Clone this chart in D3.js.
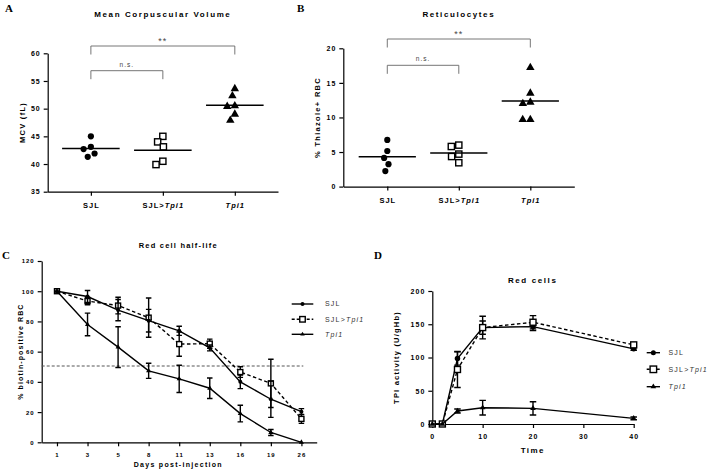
<!DOCTYPE html>
<html>
<head>
<meta charset="utf-8">
<script src="https://cdn.jsdelivr.net/npm/d3@7"></script>
<style>
  body { margin: 0; background: #fff; }
  svg text { font-family: "Liberation Sans", Arial, sans-serif; }
  .tick text { font-weight: bold; letter-spacing: 1px; }
  .panel-letter { font-family: "Liberation Serif", "Times New Roman", serif !important; font-weight: bold; font-size: 11px; }
  .title { font-weight: bold; font-size: 8px; letter-spacing: 1.6px; }
</style>
</head>
<body>
<svg width="708" height="469"></svg>
<script>
var svg = d3.select('svg');

// ---- data ----
var groups = ["SJL", "SJL>Tpi1", "Tpi1"];

// panel A: mean corpuscular volume (fL)
var mcvSJL = [45.0, 43.1, 42.7, 41.9, 41.3];
var mcvChimera = [45.0, 44.0, 43.1, 40.5, 39.9];
var mcvTpi1 = [53.6, 52.3, 50.5, 50.4, 49.0, 47.9];

// panel B: % thiazole+ RBC
var retSJL = [6.75, 5.15, 4.15, 3.25, 2.25];
var retChimera = [6.0, 5.8, 4.7, 4.35, 3.45];
var retTpi1 = [17.2, 13.5, 12.2, 12.0, 9.7, 9.7];

// panel C: red cell half-life
var days = ["1", "3", "5", "8", "11", "13", "16", "19", "26"];
var halfSJL = [100, 96.5, 87.5, 80.5, 73.8, 62.5, 40, 28.5, 20.3];
var halfSJLerr = [0, 4, 7, 7.5, 3, 2, 4.5, 12, 2];
var halfChimera = [100, 93.5, 90.5, 82.5, 65, 65.3, 46.5, 39, 15.5];
var halfChimeraErr = [0, 2.5, 5.5, 13, 8, 3, 3.5, 16, 3];
var halfTpi1 = [100, 78, 63, 47.3, 42, 35.8, 19, 6.5, 0];
var halfTpi1Err = [0, 7.5, 13.5, 5, 9, 6.8, 5.5, 2, 0];
var halfLine = 50.5;

// panel D: TPI activity in red cells
var times = [0, 2, 5, 10, 20, 40];
var tpiSJL = [0, 0, 98.5, 145, 146.5, 113];
var tpiSJLerr = [0, 0, 10, 10, 6, 2];
var tpiChimera = [0, 0, 82, 145, 153, 119];
var tpiChimeraErr = [0, 0, 27, 17, 10, 2];
var tpiTpi1 = [0, 0, 19.5, 24.5, 23.5, 8.5];
var tpiTpi1Err = [0, 0, 3, 11, 10, 2];

var yTicksA = [35, 40, 45, 50, 55, 60];
var yTicksB = [0, 5, 10, 15, 20];
var yTicksC = [0, 20, 40, 60, 80, 100, 120];
var yTicksD = [0, 50, 100, 150, 200];
var xTicksD = [0, 10, 20, 30, 40];

// ---- helpers ----
function groupLabel(sel, g){
  sel.text(null);
  if(g === "SJL>Tpi1"){
    sel.append('tspan').text('SJL>');
    sel.append('tspan').style('font-style', 'italic').text('Tpi1');
  } else if(g === "Tpi1"){
    sel.append('tspan').style('font-style', 'italic').text('Tpi1');
  } else {
    sel.append('tspan').text(g);
  }
}

// place points so they do not overlap (like a dot plot)
function swarm(vals, yScale, dist){
  var placed = [];
  vals.forEach(function(v){
    var y = yScale(v);
    var cands = [0];
    placed.forEach(function(p){
      var dy = Math.abs(p.y - y);
      if(dy < dist){
        var dx = Math.sqrt(dist*dist - dy*dy);
        cands.push(p.x - dx, p.x + dx);
      }
    });
    cands.sort(function(a, b){ return Math.abs(a) - Math.abs(b) || a - b; });
    var x = cands.find(function(c){
      return placed.every(function(p){
        return Math.hypot(p.x - c, p.y - y) >= dist - 0.01;
      });
    });
    placed.push({x: x, y: y});
  });
  return placed;
}

function drawMarker(g, kind, x, y, size){
  if(kind === 'circle'){
    g.append('circle').attr('cx', x).attr('cy', y).attr('r', size/2).attr('fill', '#000');
  } else if(kind === 'square'){
    g.append('rect').attr('x', x - size/2).attr('y', y - size/2)
      .attr('width', size).attr('height', size)
      .attr('fill', '#fff').attr('stroke', '#000').attr('stroke-width', 1.4);
  } else {
    g.append('path')
      .attr('transform', `translate(${x},${y})`)
      .attr('d', d3.symbol().type(d3.symbolTriangle).size(size*size*0.55)())
      .attr('fill', '#000');
  }
}

function styleAxis(ax, size){
  ax.selectAll('path, line').attr('stroke', '#000').attr('stroke-width', 1.2);
  ax.selectAll('text').style('font-size', size + 'px').attr('fill', '#000');
}

function bracket(g, x1, x2, yTop, drop, label, labelDy){
  g.append('path')
    .attr('d', `M${x1},${yTop + drop}V${yTop}H${x2}V${yTop + drop}`)
    .attr('fill', 'none').attr('stroke', '#666').attr('stroke-width', 0.9);
  g.append('text')
    .attr('x', (x1 + x2)/2).attr('y', yTop - labelDy)
    .attr('text-anchor', 'middle')
    .style('font-size', label === '**' ? '9px' : '6.5px')
    .style('letter-spacing', '1px')
    .attr('fill', '#444')
    .text(label);
}

// ---- scatter panels (A, B) ----
function scatterPanel(opt){
  var g = svg.append('g');

  var yScale = d3.scaleLinear().domain(opt.domain).range([opt.bottom, opt.top]);
  var xScale = d3.scalePoint().domain(groups).range([opt.left, opt.right]).padding(opt.pad);

  var yAxis = g.append('g')
    .attr('transform', `translate(${opt.left},0)`)
    .call(d3.axisLeft(yScale).tickValues(opt.ticks).tickSize(4).tickSizeOuter(0));
  styleAxis(yAxis, 7);

  var xAxis = g.append('g')
    .attr('transform', `translate(0,${opt.bottom})`)
    .call(d3.axisBottom(xScale).tickSize(4).tickSizeOuter(0));
  styleAxis(xAxis, 7.5);
  xAxis.selectAll('text').attr('dy', '1.25em').each(function(d){ groupLabel(d3.select(this), d); });

  var kinds = ['circle', 'square', 'triangle'];
  opt.series.forEach(function(vals, i){
    var cx = xScale(groups[i]);
    var pts = swarm(vals, yScale, 7.6);
    pts.forEach(function(p){ drawMarker(g, kinds[i], cx + p.x, p.y, kinds[i] === 'triangle' ? 7.5 : 6.2); });
    var m = d3.mean(vals);
    g.append('line')
      .attr('x1', cx - xScale.step()*0.4).attr('x2', cx + xScale.step()*0.4)
      .attr('y1', yScale(m)).attr('y2', yScale(m))
      .attr('stroke', '#000').attr('stroke-width', 1.4);
  });

  bracket(g, xScale(groups[0]), xScale(groups[2]), opt.starY, 8.5, '**', 2);
  bracket(g, xScale(groups[0]), xScale(groups[1]), opt.nsY, 8.5, 'n.s.', 4);

  g.append('text').attr('class', 'title')
    .attr('x', xScale(groups[1])).attr('y', 17)
    .attr('text-anchor', 'middle').text(opt.title);

  g.append('text')
    .attr('transform', 'rotate(-90)')
    .attr('x', -(opt.top + opt.bottom)/2).attr('y', opt.left - 23)
    .attr('text-anchor', 'middle')
    .style('font-size', '7.5px').style('font-weight', 'bold').style('letter-spacing', '1.3px')
    .text(opt.yLabel);

  g.append('text').attr('class', 'panel-letter')
    .attr('x', opt.letterX).attr('y', 12).text(opt.letter);
}

scatterPanel({
  letter: 'A', letterX: 5,
  title: 'Mean Corpuscular Volume',
  yLabel: 'MCV (fL)',
  domain: [35, 60], ticks: yTicksA,
  left: 47.7, right: 278, top: 53.3, bottom: 191.7, pad: 0.6,
  series: [mcvSJL, mcvChimera, mcvTpi1],
  starY: 46, nsY: 70.7
});

scatterPanel({
  letter: 'B', letterX: 297,
  title: 'Reticulocytes',
  yLabel: '% Thiazole+ RBC',
  domain: [0, 20], ticks: yTicksB,
  left: 343.3, right: 574.3, top: 48.3, bottom: 186.6, pad: 0.615,
  series: [retSJL, retChimera, retTpi1],
  starY: 39, nsY: 65.3
});

// ---- line panels (C, D) ----
function errorBars(g, xs, ys, errs, yScale, cap){
  xs.forEach(function(x, i){
    if(!errs[i]) return;
    var y1 = yScale(ys[i] + errs[i]), y2 = yScale(ys[i] - errs[i]);
    g.append('path')
      .attr('d', `M${x - cap/2},${y1}H${x + cap/2}M${x},${y1}V${y2}M${x - cap/2},${y2}H${x + cap/2}`)
      .attr('stroke', '#000').attr('stroke-width', 1.4).attr('fill', 'none');
  });
}

function seriesLine(g, xs, ys, yScale, dashed, kind, msize, errs, cap){
  errorBars(g, xs, ys, errs, yScale, cap);
  g.append('path')
    .datum(ys)
    .attr('fill', 'none')
    .attr('stroke', '#000')
    .attr('stroke-width', 1.4)
    .attr('stroke-dasharray', dashed ? '3.5,2.5' : null)
    .attr('d', d3.line().x(function(d, i){ return xs[i]; }).y(function(d){ return yScale(d); }));
  ys.forEach(function(v, i){ drawMarker(g, kind, xs[i], yScale(v), msize); });
}

function legend(g, x, ys, textX, size){
  var items = [
    {name: 'SJL', dashed: false, kind: 'circle'},
    {name: 'SJL>Tpi1', dashed: true, kind: 'square'},
    {name: 'Tpi1', dashed: false, kind: 'triangle'}
  ];
  items.forEach(function(it, i){
    g.append('line')
      .attr('x1', x[0]).attr('x2', x[1]).attr('y1', ys[i]).attr('y2', ys[i])
      .attr('stroke', '#000').attr('stroke-width', 1.4)
      .attr('stroke-dasharray', it.dashed ? '3,2' : null);
    drawMarker(g, it.kind, (x[0] + x[1])/2, ys[i], it.kind === 'square' ? size + 1.5 : size);
    var t = g.append('text')
      .attr('x', textX).attr('y', ys[i]).attr('dy', '0.35em')
      .style('font-size', '7px').style('letter-spacing', '1.2px').attr('fill', '#333');
    groupLabel(t, it.name);
  });
}

// panel C
(function(){
  var g = svg.append('g');
  var left = 41.7, right = 316.7, top = 261, bottom = 442.3;
  var yScale = d3.scaleLinear().domain([0, 120]).range([bottom, top]);
  var xScale = d3.scalePoint().domain(days).range([left, right]).padding(0.5);

  var yAxis = g.append('g').attr('transform', `translate(${left},0)`)
    .call(d3.axisLeft(yScale).tickValues(yTicksC).tickSize(4).tickSizeOuter(0));
  styleAxis(yAxis, 6);
  var xAxis = g.append('g').attr('transform', `translate(0,${bottom})`)
    .call(d3.axisBottom(xScale).tickSize(4).tickSizeOuter(0));
  styleAxis(xAxis, 6);
  xAxis.selectAll('text').attr('dy', '1.3em');

  g.append('line')
    .attr('x1', left).attr('x2', 303.3)
    .attr('y1', yScale(halfLine)).attr('y2', yScale(halfLine))
    .attr('stroke', '#555').attr('stroke-width', 1).attr('stroke-dasharray', '3,2');

  var xs = days.map(function(d){ return xScale(d); });
  seriesLine(g, xs, halfChimera, yScale, true, 'square', 5, halfChimeraErr, 5.5);
  seriesLine(g, xs, halfSJL, yScale, false, 'circle', 4, halfSJLerr, 5.5);
  seriesLine(g, xs, halfTpi1, yScale, false, 'triangle', 4.5, halfTpi1Err, 5.5);

  legend(g, [291.7, 313.3], [304, 319.3, 334.3], 325, 4);

  g.append('text').attr('class', 'title').style('font-size', '7.5px').style('letter-spacing', '1.2px')
    .attr('x', 178.3).attr('y', 248).attr('text-anchor', 'middle').text('Red cell half-life');
  g.append('text')
    .attr('x', 178.3).attr('y', 467).attr('text-anchor', 'middle')
    .style('font-size', '7px').style('font-weight', 'bold').style('letter-spacing', '1.3px')
    .text('Days post-injection');
  g.append('text')
    .attr('transform', 'rotate(-90)')
    .attr('x', -(top + bottom)/2).attr('y', left - 19)
    .attr('text-anchor', 'middle')
    .style('font-size', '7px').style('font-weight', 'bold').style('letter-spacing', '1.1px')
    .text('% biotin-positive RBC');
  g.append('text').attr('class', 'panel-letter').attr('x', 2).attr('y', 259).text('C');
})();

// panel D
(function(){
  var g = svg.append('g');
  var left = 432.3, right = 633.7, top = 291, bottom = 424;
  var yScale = d3.scaleLinear().domain([0, 200]).range([bottom, top]);
  var xScale = d3.scaleLinear().domain([0, 40]).range([left, right]);

  var yAxis = g.append('g').attr('transform', `translate(${left},0)`)
    .call(d3.axisLeft(yScale).tickValues(yTicksD).tickSize(4).tickSizeOuter(0));
  styleAxis(yAxis, 7);
  var xAxis = g.append('g').attr('transform', `translate(0,${bottom})`)
    .call(d3.axisBottom(xScale).tickValues(xTicksD).tickSize(4).tickSizeOuter(0));
  styleAxis(xAxis, 7);
  xAxis.selectAll('text').attr('dy', '1.2em');

  var xs = times.map(function(t){ return xScale(t); });
  seriesLine(g, xs, tpiSJL, yScale, false, 'circle', 5.5, tpiSJLerr, 6.5);
  seriesLine(g, xs, tpiChimera, yScale, true, 'square', 6, tpiChimeraErr, 6.5);
  seriesLine(g, xs, tpiTpi1, yScale, false, 'triangle', 5, tpiTpi1Err, 6.5);

  legend(g, [646.7, 660], [352.7, 369.3, 386.7], 668.5, 5);

  g.append('text').attr('class', 'title').style('font-size', '8px')
    .attr('x', 532.7).attr('y', 283).attr('text-anchor', 'middle').text('Red cells');
  g.append('text')
    .attr('x', 532.7).attr('y', 453).attr('text-anchor', 'middle')
    .style('font-size', '8px').style('font-weight', 'bold').style('letter-spacing', '1.4px')
    .text('Time');
  g.append('text')
    .attr('transform', 'rotate(-90)')
    .attr('x', -(top + bottom)/2).attr('y', left - 33)
    .attr('text-anchor', 'middle')
    .style('font-size', '7.5px').style('font-weight', 'bold').style('letter-spacing', '1.2px')
    .text('TPI activity (U/gHb)');
  g.append('text').attr('class', 'panel-letter').attr('x', 374).attr('y', 259).text('D');
})();
</script>
</body>
</html>
